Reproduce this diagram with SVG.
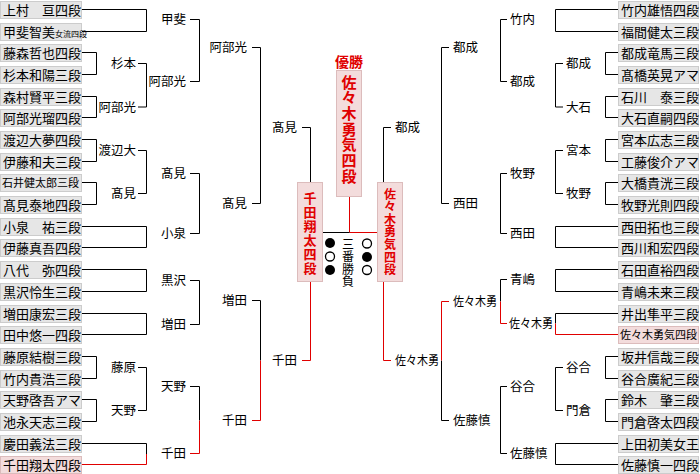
<svg xmlns="http://www.w3.org/2000/svg" width="700" height="474" viewBox="0 0 700 474">
<style>
.bx{fill:#e6e6e6;stroke:#cccccc;stroke-width:1}
.pk{fill:#f3dcdc;stroke:#dcbcbc;stroke-width:1}
text{font-family:"Noto Sans CJK JP","Noto Sans CJK SC",sans-serif;fill:#000}
.t{font-size:13px}
.lb{font-size:12.5px}
.e{text-anchor:end}
.m{text-anchor:middle}
.v{writing-mode:vertical-rl;text-anchor:start}
.rt{fill:#e00000;font-weight:bold}
.c{fill:none;stroke:#000;stroke-width:1}
.r{fill:none;stroke:#e00000;stroke-width:1}
</style>
<rect width="700" height="474" fill="#fff"/>
<g id="connectors">
<path class="c" d="M81 9.5H146.5V31.5H81M81 52.5H96.5V74.5H81M81 96.5H96.5V117.5H81M81 139.5H96.5V161.5H81M81 182.5H96.5V204.5H81M81 226.5H146.5V247.5H81M81 269.5H146.5V291.5H81M81 313.5H146.5V334.5H81M81 356.5H96.5V378.5H81M81 399.5H96.5V421.5H81M81 443.5H146.5V454"/>
<path class="r" d="M146.5 454V464.5H81"/>
<path class="c" d="M138 63.5H146.5V107H138M138 150.5H146.5V193.5H138M138 367.5H146.5V410.5H138"/>
<path class="c" d="M190 19.5H199.5V81.5H190M190 173.5H199.5V233.5H190M190 280.5H199.5V324.5H190M190 386.5H199.5V420.5"/>
<path class="r" d="M199.5 420.5V453.5H190"/>
<path class="c" d="M252 47.5H260.5V203.5H252M252 300.5H260.5V360.5"/>
<path class="r" d="M260.5 360.5V420.5H252"/>
<path class="c" d="M302 127.5H310.5V182"/>
<path class="r" d="M302 360.5H310.5V282"/>
<path class="c" d="M618 9.5H555.5V31.5H618M618 52.5H605.5V74.5H618M618 96.5H605.5V117.5H618M618 139.5H605.5V161.5H618M618 182.5H605.5V204.5H618M618 226.5H555.5V247.5H618M618 269.5H555.5V291.5H618M618 313.5H555.5V323.5M618 356.5H605.5V378.5H618M618 399.5H605.5V421.5H618M618 443.5H555.5V464.5H618"/>
<path class="r" d="M555.5 323.5V334.5H618"/>
<path class="c" d="M563 63.5H555.5V107H563M563 150.5H555.5V193.5H563M563 367.5H555.5V410.5H563"/>
<path class="c" d="M507 19.5H500.5V81.5H507M507 173.5H500.5V233.5H507M507 279.5H500.5V301.5M507 386.5H500.5V453.5H507"/>
<path class="r" d="M500.5 301.5V323.5H507"/>
<path class="c" d="M449 47.5H441.5V203.5H449M441.5 360.5V420.5H449"/>
<path class="r" d="M449 301.5H441.5V360.5"/>
<path class="c" d="M391 127.5H383.5V182"/>
<path class="r" d="M391 360.5H383.5V282"/>
<path class="r" d="M349.5 196V232.5H377"/>
<path class="c" d="M322 232.5H349.5"/>
</g>
<g id="left-entrants">
<g id="L0"><rect class="bx" x="0.5" y="1.5" width="81" height="17"/><text class="t" x="3" y="14.5">上村　亘四段</text></g>
<g id="L1"><rect class="bx" x="0.5" y="23.5" width="81" height="17"/><text class="t" x="3" y="36.5">甲斐智美<tspan font-size="8">女流四段</tspan></text></g>
<g id="L2"><rect class="bx" x="0.5" y="44.5" width="81" height="17"/><text class="t" x="3" y="57.5">藤森哲也四段</text></g>
<g id="L3"><rect class="bx" x="0.5" y="66.5" width="81" height="17"/><text class="t" x="3" y="79.5">杉本和陽三段</text></g>
<g id="L4"><rect class="bx" x="0.5" y="88.5" width="81" height="17"/><text class="t" x="3" y="101.5">森村賢平三段</text></g>
<g id="L5"><rect class="bx" x="0.5" y="109.5" width="81" height="17"/><text class="t" x="3" y="122.5">阿部光瑠四段</text></g>
<g id="L6"><rect class="bx" x="0.5" y="131.5" width="81" height="17"/><text class="t" x="3" y="144.5">渡辺大夢四段</text></g>
<g id="L7"><rect class="bx" x="0.5" y="153.5" width="81" height="17"/><text class="t" x="3" y="166.5">伊藤和夫三段</text></g>
<g id="L8"><rect class="bx" x="0.5" y="174.5" width="81" height="17"/><text x="2" y="187" font-size="11">石井健太郎三段</text></g>
<g id="L9"><rect class="bx" x="0.5" y="196.5" width="81" height="17"/><text class="t" x="3" y="209.5">髙見泰地四段</text></g>
<g id="L10"><rect class="bx" x="0.5" y="218.5" width="81" height="17"/><text class="t" x="3" y="231.5">小泉　祐三段</text></g>
<g id="L11"><rect class="bx" x="0.5" y="239.5" width="81" height="17"/><text class="t" x="3" y="252.5">伊藤真吾四段</text></g>
<g id="L12"><rect class="bx" x="0.5" y="261.5" width="81" height="17"/><text class="t" x="3" y="274.5">八代　弥四段</text></g>
<g id="L13"><rect class="bx" x="0.5" y="283.5" width="81" height="17"/><text class="t" x="3" y="296.5">黒沢怜生三段</text></g>
<g id="L14"><rect class="bx" x="0.5" y="305.5" width="81" height="17"/><text class="t" x="3" y="318.5">増田康宏三段</text></g>
<g id="L15"><rect class="bx" x="0.5" y="326.5" width="81" height="17"/><text class="t" x="3" y="339.5">田中悠一四段</text></g>
<g id="L16"><rect class="bx" x="0.5" y="348.5" width="81" height="17"/><text class="t" x="3" y="361.5">藤原結樹三段</text></g>
<g id="L17"><rect class="bx" x="0.5" y="370.5" width="81" height="17"/><text class="t" x="3" y="383.5">竹内貴浩三段</text></g>
<g id="L18"><rect class="bx" x="0.5" y="391.5" width="81" height="17"/><text class="t" x="3" y="404.5">天野啓吾アマ</text></g>
<g id="L19"><rect class="bx" x="0.5" y="413.5" width="81" height="17"/><text class="t" x="3" y="426.5">池永天志三段</text></g>
<g id="L20"><rect class="bx" x="0.5" y="435.5" width="81" height="17"/><text class="t" x="3" y="448.5">慶田義法三段</text></g>
<g id="L21"><rect class="pk" x="0.5" y="456.5" width="81" height="17"/><text class="t" x="3" y="469.5">千田翔太四段</text></g>
</g>
<g id="right-entrants">
<g id="R0"><rect class="bx" x="618.5" y="1.5" width="80" height="17"/><text class="t" x="621" y="14.5">竹内雄悟四段</text></g>
<g id="R1"><rect class="bx" x="618.5" y="23.5" width="80" height="17"/><text class="t" x="621" y="36.5">福間健太三段</text></g>
<g id="R2"><rect class="bx" x="618.5" y="44.5" width="80" height="17"/><text class="t" x="621" y="57.5">都成竜馬三段</text></g>
<g id="R3"><rect class="bx" x="618.5" y="66.5" width="80" height="17"/><text class="t" x="621" y="79.5">髙橋英晃アマ</text></g>
<g id="R4"><rect class="bx" x="618.5" y="88.5" width="80" height="17"/><text class="t" x="621" y="101.5">石川　泰三段</text></g>
<g id="R5"><rect class="bx" x="618.5" y="109.5" width="80" height="17"/><text class="t" x="621" y="122.5">大石直嗣四段</text></g>
<g id="R6"><rect class="bx" x="618.5" y="131.5" width="80" height="17"/><text class="t" x="621" y="144.5">宮本広志三段</text></g>
<g id="R7"><rect class="bx" x="618.5" y="153.5" width="80" height="17"/><text class="t" x="621" y="166.5">工藤俊介アマ</text></g>
<g id="R8"><rect class="bx" x="618.5" y="174.5" width="80" height="17"/><text class="t" x="621" y="187.5">大橋貴洸三段</text></g>
<g id="R9"><rect class="bx" x="618.5" y="196.5" width="80" height="17"/><text class="t" x="621" y="209.5">牧野光則四段</text></g>
<g id="R10"><rect class="bx" x="618.5" y="218.5" width="80" height="17"/><text class="t" x="621" y="231.5">西田拓也三段</text></g>
<g id="R11"><rect class="bx" x="618.5" y="239.5" width="80" height="17"/><text class="t" x="621" y="252.5">西川和宏四段</text></g>
<g id="R12"><rect class="bx" x="618.5" y="261.5" width="80" height="17"/><text class="t" x="621" y="274.5">石田直裕四段</text></g>
<g id="R13"><rect class="bx" x="618.5" y="283.5" width="80" height="17"/><text class="t" x="621" y="296.5">青嶋未来三段</text></g>
<g id="R14"><rect class="bx" x="618.5" y="305.5" width="80" height="17"/><text class="t" x="621" y="318.5">井出隼平三段</text></g>
<g id="R15"><rect class="pk" x="618.5" y="326.5" width="80" height="17"/><text x="620" y="339" font-size="11">佐々木勇気四段</text></g>
<g id="R16"><rect class="bx" x="618.5" y="348.5" width="80" height="17"/><text class="t" x="621" y="361.5">坂井信哉三段</text></g>
<g id="R17"><rect class="bx" x="618.5" y="370.5" width="80" height="17"/><text class="t" x="621" y="383.5">谷合廣紀三段</text></g>
<g id="R18"><rect class="bx" x="618.5" y="391.5" width="80" height="17"/><text class="t" x="621" y="404.5">鈴木　肇三段</text></g>
<g id="R19"><rect class="bx" x="618.5" y="413.5" width="80" height="17"/><text class="t" x="621" y="426.5">門倉啓太四段</text></g>
<g id="R20"><rect class="bx" x="618.5" y="435.5" width="80" height="17"/><text class="t" x="621" y="448.5">上田初美女王</text></g>
<g id="R21"><rect class="bx" x="618.5" y="456.5" width="80" height="17"/><text class="t" x="621" y="469.5">佐藤慎一四段</text></g>
</g>
<g id="left-winners">
<g id="l1-sugimoto"><text class="lb e" x="136" y="68">杉本</text></g>
<g id="l1-abe"><text class="lb e" x="136" y="111.5">阿部光</text></g>
<g id="l1-watanabe"><text class="lb e" x="136" y="155">渡辺大</text></g>
<g id="l1-takami"><text class="lb e" x="136" y="198">髙見</text></g>
<g id="l1-fujiwara"><text class="lb e" x="136" y="372">藤原</text></g>
<g id="l1-amano"><text class="lb e" x="136" y="415">天野</text></g>
<g id="l2-kai"><text class="lb e" x="186" y="24">甲斐</text></g>
<g id="l2-abe"><text class="lb e" x="186" y="86">阿部光</text></g>
<g id="l2-takami"><text class="lb e" x="186" y="178">髙見</text></g>
<g id="l2-koizumi"><text class="lb e" x="186" y="238">小泉</text></g>
<g id="l2-kurosawa"><text class="lb e" x="186" y="285">黒沢</text></g>
<g id="l2-masuda"><text class="lb e" x="186" y="329">増田</text></g>
<g id="l2-amano"><text class="lb e" x="186" y="391">天野</text></g>
<g id="l2-senda"><text class="lb e" x="186" y="458">千田</text></g>
<g id="l3-abe"><text class="lb e" x="247" y="52">阿部光</text></g>
<g id="l3-takami"><text class="lb e" x="247" y="208">髙見</text></g>
<g id="l3-masuda"><text class="lb e" x="247" y="305">増田</text></g>
<g id="l3-senda"><text class="lb e" x="247" y="425">千田</text></g>
<g id="l4-takami"><text class="lb e" x="297" y="132">髙見</text></g>
<g id="l4-senda"><text class="lb e" x="297" y="365">千田</text></g>
</g>
<g id="right-winners">
<g id="r1-tonari"><text class="lb" x="566" y="68">都成</text></g>
<g id="r1-oishi"><text class="lb" x="566" y="111.5">大石</text></g>
<g id="r1-miyamoto"><text class="lb" x="566" y="155">宮本</text></g>
<g id="r1-makino"><text class="lb" x="566" y="198">牧野</text></g>
<g id="r1-taniai"><text class="lb" x="566" y="372">谷合</text></g>
<g id="r1-kadokura"><text class="lb" x="566" y="415">門倉</text></g>
<g id="r2-takeuchi"><text class="lb" x="510" y="24">竹内</text></g>
<g id="r2-tonari"><text class="lb" x="510" y="86">都成</text></g>
<g id="r2-makino"><text class="lb" x="510" y="178">牧野</text></g>
<g id="r2-nishida"><text class="lb" x="510" y="238">西田</text></g>
<g id="r2-aoshima"><text class="lb" x="510" y="284">青嶋</text></g>
<g id="r2-sasaki"><text class="lb" x="509" y="328" textLength="44" lengthAdjust="spacingAndGlyphs">佐々木勇</text></g>
<g id="r2-taniai"><text class="lb" x="510" y="391">谷合</text></g>
<g id="r2-sato"><text class="lb" x="510" y="458">佐藤慎</text></g>
<g id="r3-tonari"><text class="lb" x="453" y="52">都成</text></g>
<g id="r3-nishida"><text class="lb" x="453" y="208">西田</text></g>
<g id="r3-sasaki"><text class="lb" x="453" y="306" textLength="44" lengthAdjust="spacingAndGlyphs">佐々木勇</text></g>
<g id="r3-sato"><text class="lb" x="453" y="425">佐藤慎</text></g>
<g id="r4-tonari"><text class="lb" x="395" y="132">都成</text></g>
<g id="r4-sasaki"><text class="lb" x="395" y="365" textLength="44" lengthAdjust="spacingAndGlyphs">佐々木勇</text></g>
</g>
<g id="champion">
<text class="rt m" x="349" y="67" font-size="14">優勝</text>
<rect class="pk" x="336.5" y="70.5" width="25" height="126"/>
<text class="rt v" x="349" y="74.5" font-size="15" letter-spacing="0.7">佐々木勇気四段</text>
</g>
<g id="finalist-left">
<rect class="pk" x="297.5" y="182.5" width="25" height="99"/>
<text class="rt v" x="310" y="191.5" font-size="13" letter-spacing="1">千田翔太四段</text>
</g>
<g id="finalist-right">
<rect class="pk" x="377.5" y="182.5" width="25" height="99"/>
<text class="rt v" x="390" y="188" font-size="12" letter-spacing="0.6">佐々木勇気四段</text>
</g>
<g id="final-series">
<text class="v" x="348" y="238" font-size="12" letter-spacing="0.5">三番勝負</text>
<circle cx="330" cy="243" r="5" fill="#000"/>
<circle cx="330" cy="256.5" r="4.5" fill="#fff" stroke="#000" stroke-width="1.3"/>
<circle cx="330" cy="270" r="5" fill="#000"/>
<circle cx="367" cy="243.5" r="4.5" fill="#fff" stroke="#000" stroke-width="1.3"/>
<circle cx="367" cy="257" r="5" fill="#000"/>
<circle cx="367" cy="270" r="4.5" fill="#fff" stroke="#000" stroke-width="1.3"/>
</g>
</svg>
